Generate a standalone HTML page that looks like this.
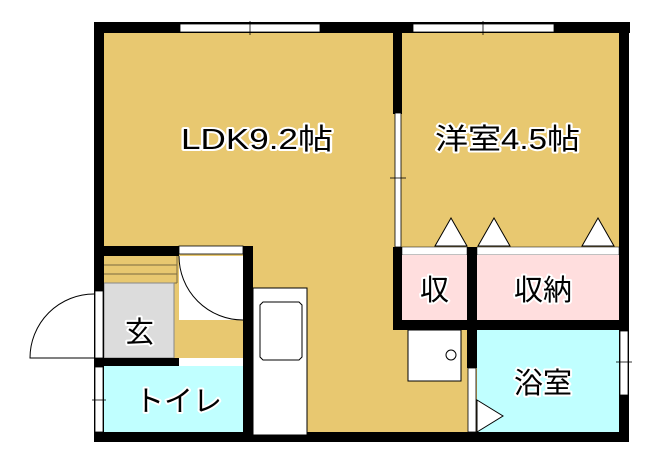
<!DOCTYPE html>
<html><head><meta charset="utf-8"><style>
html,body{margin:0;padding:0;background:#fff;}
svg{display:block}
text{font-family:"Liberation Sans","Noto Sans CJK JP",sans-serif;font-size:29px;fill:#000;stroke:#fff;stroke-width:4px;paint-order:stroke;stroke-linejoin:round}
</style></head><body>
<svg width="658" height="459" viewBox="0 0 658 459" xmlns="http://www.w3.org/2000/svg">
<rect x="104" y="33" width="516" height="400" fill="#e8c870"/>
<rect x="104" y="256" width="73" height="27" fill="#e8c870"/>
<g stroke="#7a6a40" stroke-width="1"><line x1="104" y1="265" x2="177" y2="265"/><line x1="104" y1="274" x2="177" y2="274"/><line x1="104" y1="283" x2="177" y2="283"/><line x1="177" y1="256" x2="177" y2="283"/></g>
<rect x="104" y="283" width="70" height="75" fill="#dcdcdc" stroke="#888" stroke-width="1"/>
<rect x="179" y="256" width="64" height="64" fill="#fff"/>
<path d="M179 256 A64 64 0 0 0 243 320" fill="none" stroke="#000" stroke-width="1"/>
<rect x="179" y="358" width="64" height="8" fill="#fff"/>
<rect x="104" y="366" width="139" height="66" fill="#c0ffff"/>
<line x1="114" y1="364" x2="177" y2="364" stroke="#000" stroke-dasharray="2,1"/>
<rect x="402" y="247" width="65" height="8" fill="#fff" stroke="#000" stroke-width="0.5"/>
<rect x="477" y="247" width="142" height="8" fill="#fff" stroke="#000" stroke-width="0.5"/>
<rect x="402" y="255" width="65" height="65" fill="#ffdede"/>
<rect x="477" y="255" width="142" height="65" fill="#ffdede"/>
<g fill="#fff" stroke="#000" stroke-width="1"><path d="M435 246 L451 218 L467 246Z"/><path d="M478 246 L494 218 L510 246Z"/><path d="M582 246 L598 218 L614 246Z"/></g>
<rect x="477" y="330" width="142" height="102" fill="#c0ffff"/>
<g fill="#000">
<rect x="94" y="22" width="536" height="11"/>
<rect x="94" y="22" width="10" height="420"/>
<rect x="619" y="22" width="10" height="420"/>
<rect x="94" y="432" width="535" height="10"/>
<rect x="393" y="22" width="9" height="92"/>
<rect x="393" y="247" width="9" height="83"/>
<rect x="393" y="320" width="236" height="10"/>
<rect x="467" y="247" width="10" height="121"/>
<rect x="94" y="246" width="85" height="10"/>
<rect x="243" y="246" width="10" height="196"/>
<rect x="94" y="358" width="85" height="8"/>
</g>
<g fill="#fff" stroke="#000" stroke-width="0.8">
<rect x="180" y="24" width="140" height="8"/><line x1="250" y1="21" x2="250" y2="35"/>
<rect x="413" y="24" width="141" height="8"/><line x1="483" y1="21" x2="483" y2="35"/>
<rect x="395" y="113" width="6" height="134"/><line x1="390" y1="178" x2="406" y2="178"/>
<rect x="95" y="291" width="8" height="67"/>
<rect x="95" y="367" width="8" height="65"/><line x1="92" y1="400" x2="106" y2="400"/>
<rect x="620" y="331" width="8" height="64"/><line x1="616" y1="362" x2="632" y2="362"/>
<rect x="468" y="368" width="8" height="64"/>
<rect x="179" y="246" width="64" height="8"/>
</g>
<path d="M94 358 L30 358 A64 64 0 0 1 94 294" fill="#fff" stroke="#000" stroke-width="1"/>
<path d="M477 400 L503 416 L477 432Z" fill="#fff" stroke="#000" stroke-width="1"/>
<rect x="253" y="288" width="54" height="147" fill="#fff" stroke="#000" stroke-width="1"/>
<path d="M263 302 H299 L302 305 V357 L299 360 H263 L260 357 V305Z" fill="#fff" stroke="#000" stroke-width="1"/>
<rect x="408" y="330" width="53" height="51" fill="#fff" stroke="#000" stroke-width="1"/>
<circle cx="451" cy="355" r="5" fill="#fff" stroke="#000" stroke-width="1"/>
<text x="181" y="149" textLength="152" lengthAdjust="spacingAndGlyphs">LDK9.2帖</text>
<text x="435" y="149" textLength="145" lengthAdjust="spacingAndGlyphs">洋室4.5帖</text>
<text x="420" y="300">収</text>
<text x="514" y="300">収納</text>
<text x="125" y="342">玄</text>
<text x="135" y="411">トイレ</text>
<text x="514" y="393">浴室</text>
</svg>
</body></html>
